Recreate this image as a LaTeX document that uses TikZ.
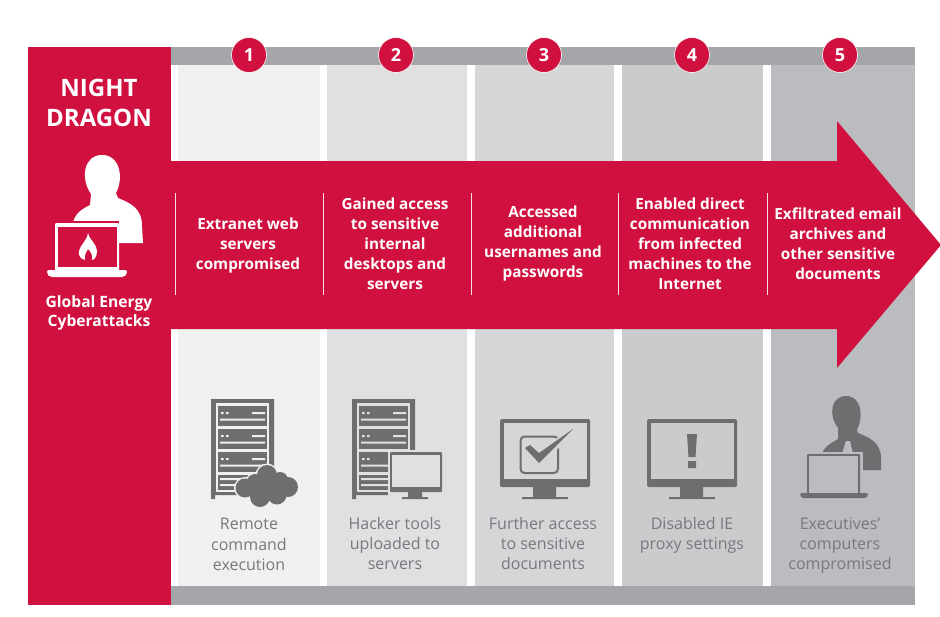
\documentclass[tikz,border=0pt]{standalone}
\usepackage{fontspec}
\usepackage{xcolor}
\setmainfont{Open Sans}
\usetikzlibrary{positioning}
\definecolor{dragonred}{HTML}{D0113F}
\definecolor{bargray}{HTML}{A5A6A9}
\definecolor{icongray}{HTML}{6D6E70}
\definecolor{labelgray}{HTML}{78797C}
\definecolor{colA}{HTML}{F0F0F0}
\definecolor{colB}{HTML}{E0E0E2}
\definecolor{colC}{HTML}{D5D6D8}
\definecolor{colD}{HTML}{CACBCD}
\definecolor{colE}{HTML}{BBBCBF}
% server rack, top left corner at #1,#2, inner colour #3
\newcommand{\serverrack}[3]{
  \begin{scope}[shift={(#1,#2)}]
    \fill[icongray] (0,0) rectangle (63,96) (0,96) rectangle (4,100) (59,96) rectangle (63,100);
    \fill[#3] (5,4) rectangle (58,93);
    \foreach \py in {7,30,53}{
      \fill[icongray] (7,\py) rectangle (56,\py+20);
      \fill[#3] (10,\py+6) rectangle (12.5,\py+8) (15,\py+6) rectangle (17.5,\py+8)
        (41,\py+6) rectangle (54,\py+8) (9,\py+12.5) rectangle (54,\py+14.5);
    }
    \fill[icongray] (7,76) rectangle (56,91);
    \fill[#3] (9,79) rectangle (54,81) (9,85) rectangle (54,87);
  \end{scope}
}
% monitor, top left corner at #1,#2, screen colour #3
\newcommand{\deskmonitor}[3]{
  \begin{scope}[shift={(#1,#2)}]
    \fill[icongray,rounded corners=1.5] (0,0) rectangle (90,68);
    \fill[#3] (3.5,4) rectangle (86.5,60);
    \fill[icongray] (33,68) rectangle (56,78) (22,78) rectangle (68,80);
  \end{scope}
}
\begin{document}
\begin{tikzpicture}[
    x=1pt,y=-1pt,
    steptext/.style={text=white,align=center,font=\bfseries\fontsize{15.3}{20}\selectfont},
    icontext/.style={text=labelgray,align=center,font=\fontsize{16}{20.3}\selectfont},
    badge/.style={circle,fill=dragonred,draw=white,line width=.6pt,minimum size=35pt,inner sep=0pt,text=white,font=\bfseries\fontsize{18}{20}\selectfont},
    sepline/.style={draw=white!85!dragonred,line width=1pt}
  ]
    \useasboundingbox (0,0) rectangle (940,616);
    % columns and bars
    \fill[colA] (178,65) rectangle (320,586);
    \fill[colB] (327,65) rectangle (467,586);
    \fill[colC] (475,65) rectangle (614,586);
    \fill[colD] (622,65) rectangle (763,586);
    \fill[colE] (771,65) rectangle (915,586);
    \fill[bargray] (171,47) rectangle (915,65);
    \fill[bargray] (171,586) rectangle (915,605);
    \fill[dragonred] (28,47) rectangle (171,605);
    % arrow
    \fill[dragonred] (171,161) -- (837,161) -- (837,121) -- (941,245) -- (837,368) -- (837,329) -- (171,329) -- cycle;
    \draw[sepline] (175.5,193) -- (175.5,295);
    \draw[sepline] (323.5,193) -- (323.5,295);
    \draw[sepline] (471,193) -- (471,295);
    \draw[sepline] (618,193) -- (618,295);
    \draw[sepline] (767,193) -- (767,295);
    % numbers
    \node[badge] (one) at (249,55) {1};
    \node[badge] (two) at (396,55) {2};
    \node[badge] (three) at (544,55) {3};
    \node[badge] (four) at (692,55) {4};
    \node[badge] (five) at (840,55) {5};
    % left panel
    \node[text=white,align=center,font=\bfseries\fontsize{24}{30}\selectfont] (title) at (99,103) {NIGHT\\DRAGON};
    \node[steptext,font=\bfseries\fontsize{15.6}{19}\selectfont] (energy) at (99,313) {Global Energy\\Cyberattacks};
    \fill[white] (73,224) .. controls (74,214) and (82,209) .. (90,205) -- (91,194) .. controls (80,178) and (84,155) .. (102,155)
      .. controls (120,155) and (124,178) .. (116,193) -- (118,198) .. controls (130,203) and (142,208) .. (142,226) -- (143,243) -- (110,243) -- (73,243) -- cycle;
    \fill[dragonred] (53,221) rectangle (119,227);
    \fill[white,rounded corners=1] (55,223) rectangle (119,271);
    \fill[dragonred] (58,227) rectangle (117,267);
    \fill[white,rounded corners=2] (47,270) -- (127,270) -- (127,274) -- (124,277) -- (50,277) -- (47,274) -- cycle;
    \fill[white] (88,233) .. controls (90,241) and (97,244) .. (97,251) .. controls (97,257) and (94,260) .. (92,260)
      .. controls (93,255) and (91,252) .. (88,249) .. controls (86,252) and (84,255) .. (85,260) .. controls (81,259) and (78,256) .. (79,251)
      .. controls (80,245) and (87,241) .. (88,233) -- cycle;
    % arrow texts
    \node[steptext] (web) at (248,246) {Extranet web\\servers\\compromised};
    \node[steptext] (desktops) at (395,243.5) {Gained access\\to sensitive\\internal\\desktops and\\servers};
    \node[steptext] (passwords) at (543,244) {Accessed\\additional\\usernames and\\passwords};
    \node[steptext] (direct) at (690,243.5) {Enabled direct\\communication\\from infected\\machines to the\\Internet};
    \node[steptext] (email) at (838,244) {Exfiltrated email\\archives and\\other sensitive\\documents};
    % icons
    \serverrack{211}{399}{colA}
    \foreach \cx/\cy/\cr in {267/475/11.5,245/488/11,288/487/11.5,260/497/11.5,277/495/11,255/482/9.5,280/480/9.5}
      \fill[colA] (\cx,\cy) circle (\cr);
    \foreach \cx/\cy/\cr in {267/475/10,245/488/9.5,288/487/10,260/497/10,277/495/9.5,255/482/8,280/480/8,266/488/12}
      \fill[icongray] (\cx,\cy) circle (\cr);
    \serverrack{352}{399}{colB}
    \fill[colB] (388,450) rectangle (444,501);
    \fill[icongray,rounded corners=1] (390,452) rectangle (442,492);
    \fill[colB] (392,454.5) rectangle (439.5,487);
    \fill[icongray] (408,492) rectangle (422,497) (402,497) rectangle (428,499);
    \deskmonitor{500}{419}{colC}
    \draw[icongray,line width=2pt,rounded corners=4] (520.5,436.5) rectangle (558,473);
    \fill[colC] (527,446) -- (539,455) -- (570,426) -- (576,430) -- (541,466) -- (522,451) -- cycle;
    \fill[icongray] (525,448) -- (530,445) -- (539,453) -- (573,429) -- (539,463) -- cycle;
    \deskmonitor{647}{419}{colD}
    \fill[icongray] (687,434) -- (697,434) -- (695.5,457) -- (688.5,457) -- cycle (688,461) rectangle (696,468);
    \fill[icongray] (822,455) .. controls (823,447) and (830,444) .. (838,439) -- (838,428) .. controls (828,415) and (831,396) .. (846,396)
      .. controls (861,396) and (864,415) .. (857,430) -- (858,433) .. controls (868,437) and (881,442) .. (881,458) -- (881,470) -- (860,470) -- (822,470) -- cycle;
    \fill[colE] (846,441) -- (850,441) -- (853,454) -- (842,454) -- cycle;
    \fill[colE] (805,452) rectangle (863,494);
    \fill[icongray,rounded corners=1] (807,454) rectangle (860,494);
    \fill[colE] (809,456) rectangle (858,493);
    \fill[icongray,rounded corners=1.5] (800,493) -- (868,493) -- (868,495.5) -- (866,498) -- (802,498) -- (800,495.5) -- cycle;
    % icon texts
    \node[icontext] (remote) at (249,544.5) {Remote\\command\\execution};
    \node[icontext] (tools) at (395,543.5) {Hacker tools\\uploaded to\\servers};
    \node[icontext] (further) at (543,543.5) {Further access\\to sensitive\\documents};
    \node[icontext] (proxy) at (692,535.5) {Disabled IE\\proxy settings};
    \node[icontext] (execs) at (840,545.5) {Executives'\\computers\\compromised};
  \end{tikzpicture}
\end{document}
